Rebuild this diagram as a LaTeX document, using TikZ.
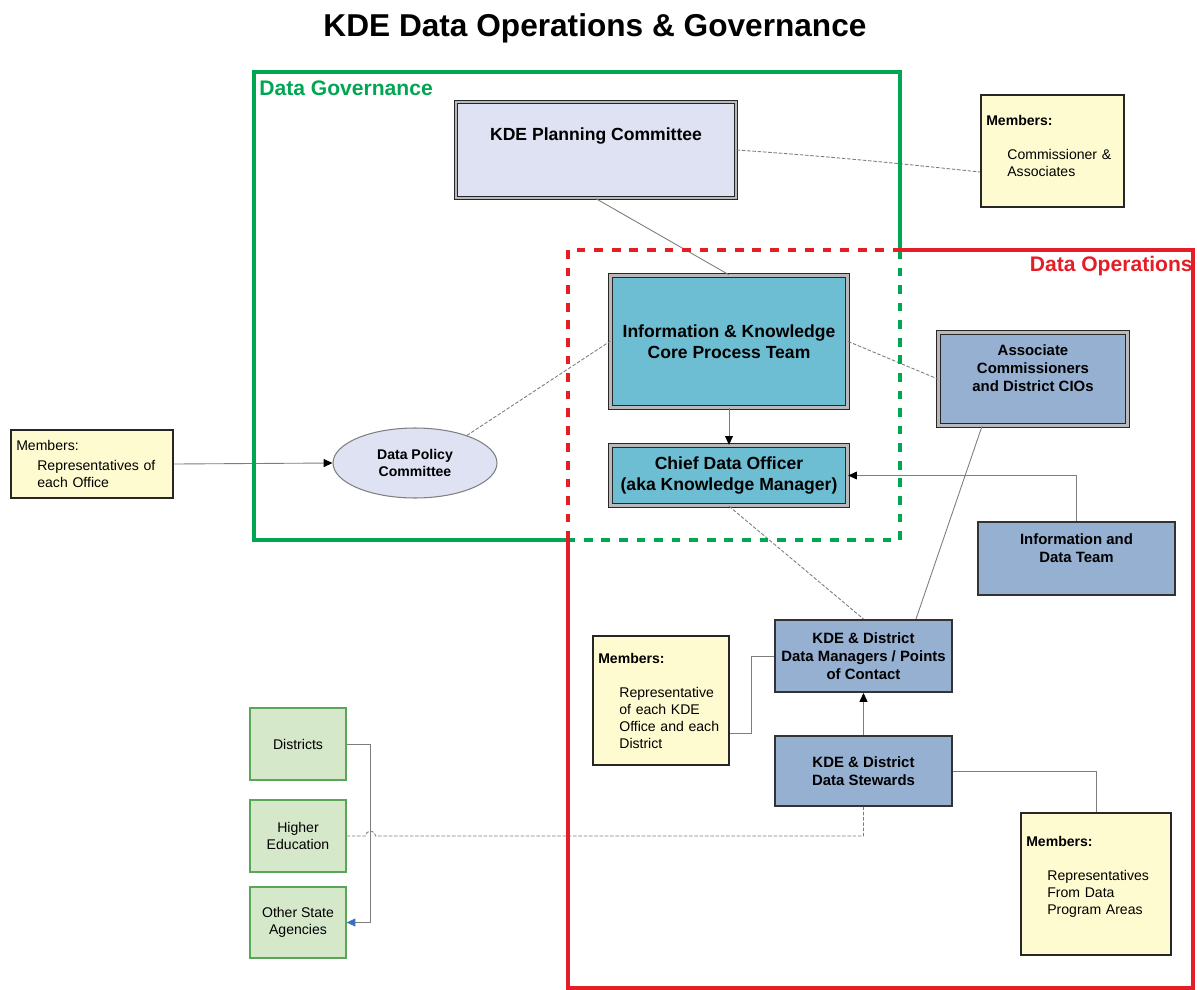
\documentclass[tikz,border=0pt]{standalone}
\usepackage{fontspec}
\setmainfont{Liberation Sans}
\usepackage{tikz}
\usetikzlibrary{arrows.meta,shapes.geometric,positioning}
\definecolor{govgreen}{RGB}{0,166,81}
\definecolor{opsred}{RGB}{228,30,38}
\definecolor{lavender}{RGB}{222,226,242}
\definecolor{coreteal}{RGB}{110,190,211}
\definecolor{steelblue}{RGB}{150,176,210}
\definecolor{memberyellow}{RGB}{255,251,208}
\definecolor{sourcegreen}{RGB}{214,232,202}
\definecolor{linkgray}{RGB}{125,125,125}
\definecolor{hopblue}{RGB}{60,110,190}
\newcommand{\mbrind}{\hspace*{12pt}}
\tikzset
{
    dblbox/.style    = {rectangle, draw=black!85, double=gray!55, double distance=1.2pt, line width=0.8pt, align=center, font=\fontsize{10}{12}\selectfont\bfseries},
    opsbox/.style    = {rectangle, draw=black!80, line width=1.1pt, fill=steelblue, align=center, font=\fontsize{8.5}{10.2}\selectfont\bfseries},
    memberbox/.style = {rectangle, draw=black!85, line width=1.1pt, fill=memberyellow, align=left, inner xsep=3pt, font=\fontsize{8}{9.6}\selectfont},
    sourcebox/.style = {rectangle, draw=gray!70!green, line width=0.7pt, fill=sourcegreen, align=center, font=\fontsize{8}{9.6}\selectfont},
    link/.style      = {draw=linkgray, line width=0.5pt},
    dashlink/.style  = {draw=linkgray, line width=0.5pt, dash pattern=on 2pt off 1pt},
    arrowed/.style   = {->},
    boxline/.style   = {line width=2pt},
    boxdash/.style   = {line width=2pt, dash pattern=on 5pt off 5pt}
}

\begin{document}
\begin{tikzpicture}[x=0.02cm, y=-0.02cm, >={Triangle[length=5pt,width=4.5pt,color=black]}]
    \useasboundingbox (0,0) rectangle (1197,990);

    % title and frame labels
    \node[font=\fontsize{18}{22}\selectfont\bfseries] (title) at (595,28) {KDE Data Operations \& Governance};
    \node[anchor=west, inner sep=0pt, text=govgreen, font=\fontsize{12}{14}\selectfont\bfseries] (govlabel) at (259,88) {Data Governance};
    \node[anchor=east, inner sep=0pt, text=opsred, font=\fontsize{12}{14}\selectfont\bfseries] (opslabel) at (1193,266) {Data Operations};

    % governance side
    \node[dblbox, fill=lavender, minimum width=5.6cm, minimum height=1.92cm, text depth=18pt] (plan) at (596,150) {KDE Planning Committee};
    \node[memberbox, text width=2.65cm, minimum height=2.24cm, text depth=35pt] (commission) at (1052.5,151) {\textbf{Members:}\\[10pt]\mbrind Commissioner \&\\\mbrind Associates};
    \node[dblbox, fill=coreteal, minimum width=4.74cm, minimum height=2.64cm] (core) at (729,341.5) {Information \& Knowledge\\Core Process Team};
    \node[dblbox, fill=coreteal, minimum width=4.74cm, minimum height=1.2cm] (cdo) at (729,475.5) {Chief Data Officer\\(aka Knowledge Manager)};
    \node[ellipse, draw=gray, line width=0.6pt, fill=lavender, minimum width=3.28cm, minimum height=1.4cm, align=center, font=\fontsize{8}{9.6}\selectfont\bfseries] (policy) at (415,463) {Data Policy\\Committee};
    \node[memberbox, text width=3.03cm, minimum height=1.36cm] (offices) at (92,464) {Members:\\[2pt]\mbrind Representatives of\\\mbrind each Office};

    % operations side
    \node[dblbox, fill=steelblue, minimum width=3.78cm, minimum height=1.86cm, font=\fontsize{8.5}{10.2}\selectfont\bfseries, text depth=12pt] (assoc) at (1033,379) {Associate\\Commissioners\\and District CIOs};
    \node[opsbox, minimum width=3.94cm, minimum height=1.46cm, text depth=12pt] (infoteam) at (1076.5,558.5) {Information and\\Data Team};
    \node[opsbox, minimum width=3.54cm, minimum height=1.44cm] (managers) at (863.5,656) {KDE \& District\\Data Managers / Points\\of Contact};
    \node[memberbox, text width=2.51cm, minimum height=2.58cm] (kdeoffice) at (661,700.5) {\textbf{Members:}\\[10pt]\mbrind Representative\\\mbrind of each KDE\\\mbrind Office and each\\\mbrind District};
    \node[opsbox, minimum width=3.54cm, minimum height=1.4cm] (stewards) at (863.5,771) {KDE \& District\\Data Stewards};
    \node[memberbox, text width=2.79cm, minimum height=2.84cm, text depth=49pt] (programs) at (1096,884) {\textbf{Members:}\\[10pt]\mbrind Representatives\\\mbrind From Data\\\mbrind Program Areas};

    % outside sources
    \node[sourcebox, minimum width=1.92cm, minimum height=1.44cm] (districts) at (298,744) {Districts};
    \node[sourcebox, minimum width=1.92cm, minimum height=1.44cm] (higher) at (298,836) {Higher\\Education};
    \node[sourcebox, minimum width=1.92cm, minimum height=1.42cm] (agencies) at (298,922.5) {Other State\\Agencies};

    % connectors
    \draw[dashlink] (plan.east) to[out=-4,in=174] ([yshift=-0.42cm]commission.west);
    \draw[link] (plan.south) -- (core.north);
    \draw[dashlink] (core.east) -- (assoc.west);
    \draw[dashlink] (policy.28) -- (core.west);
    \draw[link, arrowed] (offices.east) -- (policy.west);
    \draw[link, arrowed] (core.south) -- (cdo.north);
    \draw[link, arrowed] (infoteam.north) |- (cdo.east);
    \draw[link] ([xshift=-1.02cm]assoc.south) -- ([xshift=1.05cm]managers.north);
    \draw[dashlink] (cdo.south) -- (managers.north);
    \draw[link] (managers.west) -- ++(-23,0) |- ([yshift=-0.65cm]kdeoffice.east);
    \draw[link, arrowed] (stewards.north) -- (managers.south);
    \draw[link] (stewards.east) -| (programs.north);
    \draw[link, -{Triangle[length=5pt,width=4.5pt,color=hopblue]}] (districts.east) -- ++(24,0) |- (agencies.east);
    \draw[dashlink] (higher.east) -- ++(19,0) arc[start angle=180, end angle=0, radius=0.1cm] -| (stewards.south);

    % governance frame
    \draw[boxline, govgreen] (568,540) -- (254,540) -- (254,72) -- (900,72) -- (900,250);
    \draw[boxdash, govgreen] (900,250) -- (900,540) -- (568,540);
    % operations frame
    \draw[boxline, opsred] (900,250) -- (1193,250) -- (1193,988) -- (568,988) -- (568,540);
    \draw[boxdash, opsred] (568,540) -- (568,250) -- (900,250);
\end{tikzpicture}
\end{document}
